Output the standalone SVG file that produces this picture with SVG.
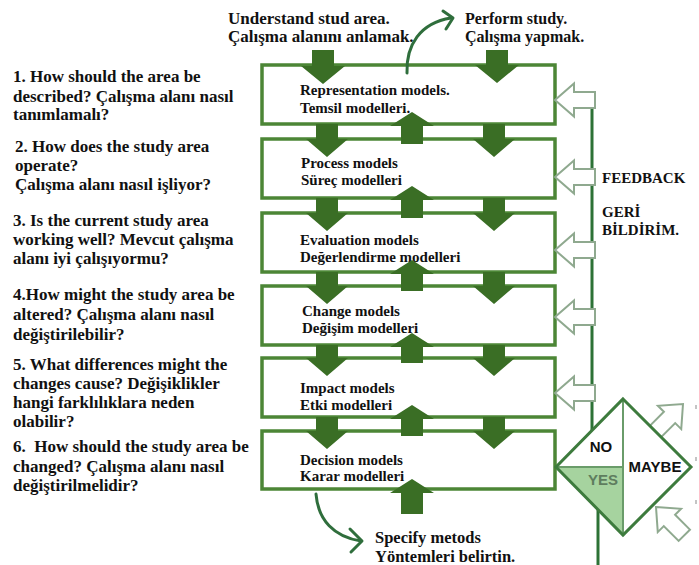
<svg xmlns="http://www.w3.org/2000/svg" width="699" height="565" viewBox="0 0 699 565">
<defs>
<style>
.q{font-family:"Liberation Serif","Times New Roman",serif;font-weight:bold;font-size:17px;fill:#111}
.top{font-family:"Liberation Serif","Times New Roman",serif;font-weight:bold;font-size:17px;fill:#111}
.bt{font-family:"Liberation Serif","Times New Roman",serif;font-weight:bold;font-size:15px;fill:#111}
.fb{font-family:"Liberation Serif","Times New Roman",serif;font-weight:bold;font-size:15px;fill:#111}
.box{fill:#fff;stroke:#4c8636;stroke-width:3.5}
.ar{fill:#3a6e25}
.ho{fill:#fff;stroke:#8fa98f;stroke-width:2;stroke-linejoin:miter}
.cv{fill:none;stroke:#2f6e3c;stroke-width:3;stroke-linecap:round;stroke-linejoin:round}
.dl{font-family:"Liberation Sans",Arial,sans-serif;font-weight:bold;font-size:15px;text-anchor:middle}
</style>
<path id="hollow" d="M0,0 L19,-16.5 L19,-8 L40,-8 L40,8 L19,8 L19,16.5 Z"/>
</defs>
<rect width="699" height="565" fill="#fff"/>

<g id="questions">
<text class="q" x="13" y="82">1. How should the area be</text>
<text class="q" x="13" y="102">described? Çalışma alanı nasıl</text>
<text class="q" x="13" y="120">tanımlamalı?</text>
<text class="q" x="15" y="152">2. How does the study area</text>
<text class="q" x="15" y="171">operate?</text>
<text class="q" x="15" y="190">Çalışma alanı nasıl işliyor?</text>
<text class="q" x="13" y="226">3. Is the current study area</text>
<text class="q" x="13" y="245">working well? Mevcut çalışma</text>
<text class="q" x="13" y="264">alanı iyi çalışıyormu?</text>
<text class="q" x="13" y="300">4.How might the study area be</text>
<text class="q" x="13" y="320">altered? Çalışma alanı nasıl</text>
<text class="q" x="13" y="340">değiştirilebilir?</text>
<text class="q" x="13" y="370">5. What differences might the</text>
<text class="q" x="13" y="389">changes cause? Değişiklikler</text>
<text class="q" x="13" y="408">hangi farklılıklara neden</text>
<text class="q" x="13" y="427">olabilir?</text>
<text class="q" x="13" y="452" xml:space="preserve">6.  How should the study area be</text>
<text class="q" x="13" y="472">changed? Çalışma alanı nasıl</text>
<text class="q" x="13" y="491">değiştirilmelidir?</text>
</g>

<g id="label-understand">
<text class="top" x="228" y="24">Understand stud area.</text>
<text class="top" x="228" y="42">Çalışma alanını anlamak.</text>
</g>
<g id="label-perform">
<text class="top" x="465" y="24" style="font-size:16px">Perform study.</text>
<text class="top" x="465" y="42" style="font-size:16px">Çalışma yapmak.</text>
</g>
<g id="label-specify">
<text class="top" x="375" y="543" style="font-size:16.5px">Specify metods</text>
<text class="top" x="375" y="562" style="font-size:16.5px">Yöntemleri belirtin.</text>
</g>
<g id="label-feedback">
<text class="fb" x="602" y="183">FEEDBACK</text>
<text class="fb" x="602" y="217">GERİ</text>
<text class="fb" x="602" y="235">BİLDİRİM.</text>
</g>

<g id="box-representation">
<rect class="box" x="262" y="65" width="293" height="59"/>
<text class="bt" x="300" y="95">Representation models.</text>
<text class="bt" x="300" y="113">Temsil modelleri.</text>
</g>
<g id="box-process">
<rect class="box" x="262" y="139" width="293" height="59"/>
<text class="bt" x="301" y="168">Process models</text>
<text class="bt" x="301" y="185">Süreç modelleri</text>
</g>
<g id="box-evaluation">
<rect class="box" x="262" y="213" width="293" height="59"/>
<text class="bt" x="300" y="245">Evaluation models</text>
<text class="bt" x="300" y="262">Değerlendirme modelleri</text>
</g>
<g id="box-change">
<rect class="box" x="262" y="286" width="293" height="59"/>
<text class="bt" x="302" y="316">Change models</text>
<text class="bt" x="302" y="333">Değişim modelleri</text>
</g>
<g id="box-impact">
<rect class="box" x="262" y="358" width="293" height="59"/>
<text class="bt" x="300" y="393">Impact models</text>
<text class="bt" x="300" y="410">Etki modelleri</text>
</g>
<g id="box-decision">
<rect class="box" x="262" y="431" width="293" height="58"/>
<text class="bt" x="300" y="465">Decision models</text>
<text class="bt" x="300" y="481">Karar modelleri</text>
</g>

<g id="connectors">
<!-- top inputs -->
<polygon class="ar" points="312,50 334,50 334,66 345,66 323,84 301,66 312,66"/>
<polygon class="ar" points="486,50 508,50 508,65 519,65 497,83 475,65 486,65"/>
<!-- gap 1 -->
<polygon class="ar" points="316,124 338,124 338,139 348,139 327,157 306,139 316,139"/>
<polygon class="ar" points="483,124 505,124 505,139 515,139 494,157 473,139 483,139"/>
<polygon class="ar" points="412,112 434,126 423,126 423,144 401,144 401,126 390,126"/>
<!-- gap 2 -->
<polygon class="ar" points="316,198 338,198 338,213 348,213 327,231 306,213 316,213"/>
<polygon class="ar" points="483,198 505,198 505,213 515,213 494,231 473,213 483,213"/>
<polygon class="ar" points="412,186 434,200 423,200 423,218 401,218 401,200 390,200"/>
<!-- gap 3 -->
<polygon class="ar" points="316,272 338,272 338,286 348,286 327,304 306,286 316,286"/>
<polygon class="ar" points="483,272 505,272 505,286 515,286 494,304 473,286 483,286"/>
<polygon class="ar" points="412,260 434,274 423,274 423,291 401,291 401,274 390,274"/>
<!-- gap 4 -->
<polygon class="ar" points="316,345 338,345 338,358 348,358 327,376 306,358 316,358"/>
<polygon class="ar" points="483,345 505,345 505,358 515,358 494,376 473,358 483,358"/>
<polygon class="ar" points="412,333 434,347 423,347 423,363 401,363 401,347 390,347"/>
<!-- gap 5 -->
<polygon class="ar" points="316,417 338,417 338,431 348,431 327,449 306,431 316,431"/>
<polygon class="ar" points="483,417 505,417 505,431 515,431 494,449 473,431 483,431"/>
<polygon class="ar" points="412,405 434,419 423,419 423,436 401,436 401,419 390,419"/>
<!-- bottom input -->
<polygon class="ar" points="412,479 434,493 423,493 423,514 401,514 401,493 390,493"/>
<!-- curved arrows -->
<path class="cv" d="M407,73 C406,45 420,23 451,18"/>
<path class="cv" d="M443,11 L453,18 L446,29"/>
<path class="cv" d="M316,494 C318,520 334,537 361,541"/>
<path class="cv" d="M350,529 L362,541 L351,552"/>
<!-- feedback line -->
<line x1="592" y1="92" x2="592" y2="470" stroke="#2d7236" stroke-width="3"/>
<line x1="598" y1="500" x2="598" y2="565" stroke="#2d7236" stroke-width="3"/>
<!-- hollow feedback arrows -->
<use href="#hollow" class="ho" transform="translate(555,100)"/>
<use href="#hollow" class="ho" transform="translate(555,177)"/>
<use href="#hollow" class="ho" transform="translate(555,250)"/>
<use href="#hollow" class="ho" transform="translate(555,317)"/>
<use href="#hollow" class="ho" transform="translate(555,393)"/>
<!-- arrows near diamond -->
<use href="#hollow" class="ho" transform="translate(683,404) rotate(135)"/>
<use href="#hollow" class="ho" transform="translate(656,507) rotate(45)"/>
</g>

<g id="decision-diamond">
<polygon points="623,399 691,467 623,535 556,467" fill="#fff"/>
<polygon points="556,467 623,467 623,535" fill="#a6d39f"/>
<line x1="623" y1="399" x2="623" y2="535" stroke="#6a9c6a" stroke-width="2"/>
<line x1="556" y1="467" x2="623" y2="467" stroke="#6a9c6a" stroke-width="2"/>
<polygon points="623,399 691,467 623,535 556,467" fill="none" stroke="#3d7b3d" stroke-width="3"/>
<text class="dl" x="601" y="452" fill="#111">NO</text>
<text class="dl" x="603" y="485" fill="#5e7d5e">YES</text>
<text class="dl" x="655" y="472" fill="#111">MAYBE</text>
</g>

<g id="marks" fill="#c4c4c4">
<rect x="695" y="405" width="2" height="4"/>
<rect x="695" y="457" width="2" height="4"/>
<rect x="695" y="500" width="2" height="4"/>
</g>
</svg>
